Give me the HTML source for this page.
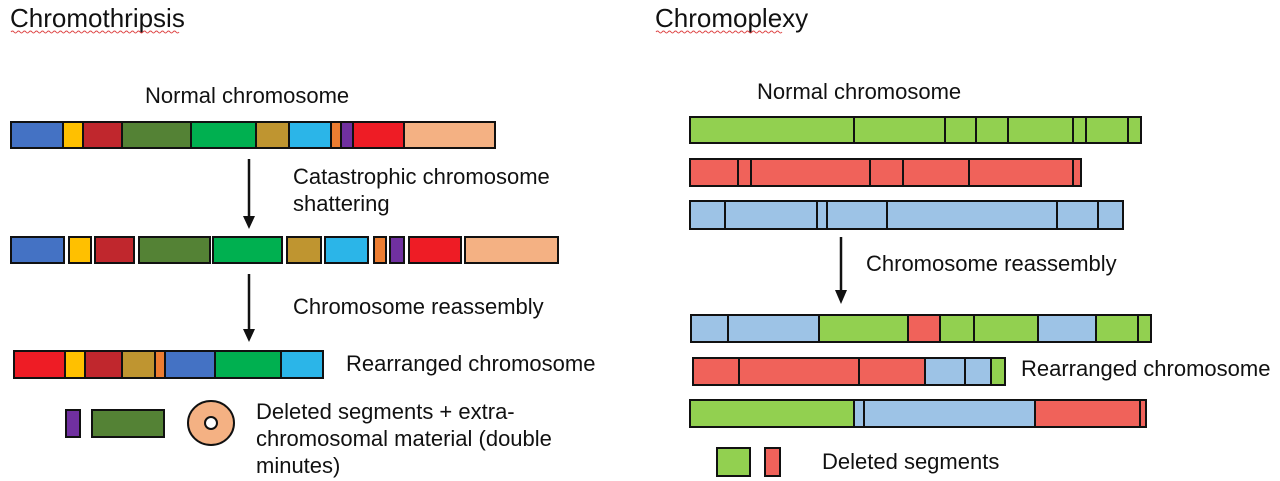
<!DOCTYPE html>
<html><head><meta charset="utf-8"><style>
html,body{margin:0;padding:0;background:#fff;}
svg{display:block;font-family:"Liberation Sans",Arial,sans-serif;}
text{fill:#111;font-size:22px;}
rect{stroke:#111;stroke-width:2;}
</style></head><body>
<svg width="1280" height="481" viewBox="0 0 1280 481" xmlns="http://www.w3.org/2000/svg">
<text x="10" y="27" style="font-size:26px">Chromothripsis</text>
<path d="M11,32 q1.5,-2 3,0 t3,0 t3,0 t3,0 t3,0 t3,0 t3,0 t3,0 t3,0 t3,0 t3,0 t3,0 t3,0 t3,0 t3,0 t3,0 t3,0 t3,0 t3,0 t3,0 t3,0 t3,0 t3,0 t3,0 t3,0 t3,0 t3,0 t3,0 t3,0 t3,0 t3,0 t3,0 t3,0 t3,0 t3,0 t3,0 t3,0 t3,0 t3,0 t3,0 t3,0 t3,0 t3,0 t3,0 t3,0 t3,0 t3,0 t3,0 t3,0 t3,0 t3,0 t3,0 t3,0 t3,0 t3,0 t3,0" fill="none" stroke="#d44" stroke-width="1"/>
<text x="655" y="27" style="font-size:26px">Chromoplexy</text>
<path d="M656,32 q1.5,-2 3,0 t3,0 t3,0 t3,0 t3,0 t3,0 t3,0 t3,0 t3,0 t3,0 t3,0 t3,0 t3,0 t3,0 t3,0 t3,0 t3,0 t3,0 t3,0 t3,0 t3,0 t3,0 t3,0 t3,0 t3,0 t3,0 t3,0 t3,0 t3,0 t3,0 t3,0 t3,0 t3,0 t3,0 t3,0 t3,0 t3,0 t3,0 t3,0 t3,0 t3,0 t3,0" fill="none" stroke="#d44" stroke-width="1"/>

<text x="145" y="103">Normal chromosome</text>
<g>
<rect x="11" y="122" width="52" height="26" fill="#4472c4"/>
<rect x="63" y="122" width="20" height="26" fill="#ffc000"/>
<rect x="83" y="122" width="39" height="26" fill="#c0272d"/>
<rect x="122" y="122" width="69" height="26" fill="#548235"/>
<rect x="191" y="122" width="65" height="26" fill="#00b050"/>
<rect x="256" y="122" width="33" height="26" fill="#bf9530"/>
<rect x="289" y="122" width="42" height="26" fill="#2bb5e8"/>
<rect x="331" y="122" width="10" height="26" fill="#ed7d31"/>
<rect x="341" y="122" width="12" height="26" fill="#7030a0"/>
<rect x="353" y="122" width="51" height="26" fill="#ee1c25"/>
<rect x="404" y="122" width="91" height="26" fill="#f4b183"/>
</g>
<line x1="249" y1="159" x2="249" y2="218" stroke="#111" stroke-width="2.5"/>
<path d="M243,216 L255,216 L249,229 Z" fill="#111"/>
<text x="293" y="184">Catastrophic chromosome</text>
<text x="293" y="211">shattering</text>
<g>
<rect x="11" y="237" width="53" height="26" fill="#4472c4"/>
<rect x="69" y="237" width="22" height="26" fill="#ffc000"/>
<rect x="95" y="237" width="39" height="26" fill="#c0272d"/>
<rect x="139" y="237" width="71" height="26" fill="#548235"/>
<rect x="213" y="237" width="69" height="26" fill="#00b050"/>
<rect x="287" y="237" width="34" height="26" fill="#bf9530"/>
<rect x="325" y="237" width="43" height="26" fill="#2bb5e8"/>
<rect x="374" y="237" width="12" height="26" fill="#ed7d31"/>
<rect x="390" y="237" width="14" height="26" fill="#7030a0"/>
<rect x="409" y="237" width="52" height="26" fill="#ee1c25"/>
<rect x="465" y="237" width="93" height="26" fill="#f4b183"/>
</g>
<line x1="249" y1="274" x2="249" y2="331" stroke="#111" stroke-width="2.5"/>
<path d="M243,329 L255,329 L249,342 Z" fill="#111"/>
<text x="293" y="314">Chromosome reassembly</text>
<g>
<rect x="14" y="351" width="51" height="27" fill="#ee1c25"/>
<rect x="65" y="351" width="20" height="27" fill="#ffc000"/>
<rect x="85" y="351" width="37" height="27" fill="#c0272d"/>
<rect x="122" y="351" width="33" height="27" fill="#bf9530"/>
<rect x="155" y="351" width="10" height="27" fill="#ed7d31"/>
<rect x="165" y="351" width="50" height="27" fill="#4472c4"/>
<rect x="215" y="351" width="66" height="27" fill="#00b050"/>
<rect x="281" y="351" width="42" height="27" fill="#2bb5e8"/>
</g>
<text x="346" y="371">Rearranged chromosome</text>
<rect x="66" y="410" width="14" height="27" fill="#7030a0"/>
<rect x="92" y="410" width="72" height="27" fill="#548235"/>
<ellipse cx="211" cy="423" rx="23" ry="22" fill="#f4b183" stroke="#111" stroke-width="2"/>
<circle cx="211" cy="423" r="6" fill="#fff" stroke="#111" stroke-width="2"/>
<text x="256" y="419">Deleted segments + extra-</text>
<text x="256" y="446">chromosomal material (double</text>
<text x="256" y="473">minutes)</text>

<text x="757" y="99">Normal chromosome</text>
<g>
<rect x="690" y="117" width="164" height="26" fill="#92d050"/>
<rect x="854" y="117" width="91" height="26" fill="#92d050"/>
<rect x="945" y="117" width="31" height="26" fill="#92d050"/>
<rect x="976" y="117" width="32" height="26" fill="#92d050"/>
<rect x="1008" y="117" width="65" height="26" fill="#92d050"/>
<rect x="1073" y="117" width="13" height="26" fill="#92d050"/>
<rect x="1086" y="117" width="42" height="26" fill="#92d050"/>
<rect x="1128" y="117" width="13" height="26" fill="#92d050"/>
</g>
<g>
<rect x="690" y="159" width="48" height="27" fill="#f0625a"/>
<rect x="738" y="159" width="13" height="27" fill="#f0625a"/>
<rect x="751" y="159" width="119" height="27" fill="#f0625a"/>
<rect x="870" y="159" width="33" height="27" fill="#f0625a"/>
<rect x="903" y="159" width="66" height="27" fill="#f0625a"/>
<rect x="969" y="159" width="104" height="27" fill="#f0625a"/>
<rect x="1073" y="159" width="8" height="27" fill="#f0625a"/>
</g>
<g>
<rect x="690" y="201" width="35" height="28" fill="#9dc3e6"/>
<rect x="725" y="201" width="92" height="28" fill="#9dc3e6"/>
<rect x="817" y="201" width="10" height="28" fill="#9dc3e6"/>
<rect x="827" y="201" width="60" height="28" fill="#9dc3e6"/>
<rect x="887" y="201" width="170" height="28" fill="#9dc3e6"/>
<rect x="1057" y="201" width="41" height="28" fill="#9dc3e6"/>
<rect x="1098" y="201" width="25" height="28" fill="#9dc3e6"/>
</g>
<line x1="841" y1="237" x2="841" y2="292" stroke="#111" stroke-width="2.5"/>
<path d="M835,290 L847,290 L841,304 Z" fill="#111"/>
<text x="866" y="271">Chromosome reassembly</text>
<g>
<rect x="691" y="315" width="37" height="27" fill="#9dc3e6"/>
<rect x="728" y="315" width="91" height="27" fill="#9dc3e6"/>
<rect x="819" y="315" width="89" height="27" fill="#92d050"/>
<rect x="908" y="315" width="32" height="27" fill="#f0625a"/>
<rect x="940" y="315" width="34" height="27" fill="#92d050"/>
<rect x="974" y="315" width="64" height="27" fill="#92d050"/>
<rect x="1038" y="315" width="58" height="27" fill="#9dc3e6"/>
<rect x="1096" y="315" width="42" height="27" fill="#92d050"/>
<rect x="1138" y="315" width="13" height="27" fill="#92d050"/>
</g>
<g>
<rect x="693" y="358" width="46" height="27" fill="#f0625a"/>
<rect x="739" y="358" width="120" height="27" fill="#f0625a"/>
<rect x="859" y="358" width="66" height="27" fill="#f0625a"/>
<rect x="925" y="358" width="40" height="27" fill="#9dc3e6"/>
<rect x="965" y="358" width="26" height="27" fill="#9dc3e6"/>
<rect x="991" y="358" width="14" height="27" fill="#92d050"/>
</g>
<text x="1021" y="376">Rearranged chromosome</text>
<g>
<rect x="690" y="400" width="164" height="27" fill="#92d050"/>
<rect x="854" y="400" width="10" height="27" fill="#9dc3e6"/>
<rect x="864" y="400" width="171" height="27" fill="#9dc3e6"/>
<rect x="1035" y="400" width="105" height="27" fill="#f0625a"/>
<rect x="1140" y="400" width="6" height="27" fill="#f0625a"/>
</g>
<rect x="717" y="448" width="33" height="28" fill="#92d050"/>
<rect x="765" y="448" width="15" height="28" fill="#f0625a"/>
<text x="822" y="469">Deleted segments</text>
</svg>
</body></html>
